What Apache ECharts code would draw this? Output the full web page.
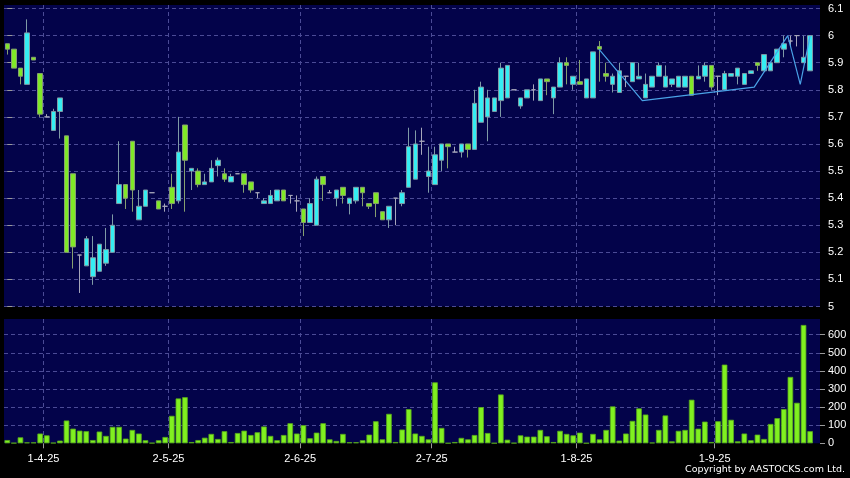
<!DOCTYPE html>
<html><head><meta charset="utf-8">
<script src="https://cdn.jsdelivr.net/npm/echarts@6/dist/echarts.min.js"></script>
<style>html,body{margin:0;padding:0;background:#000;}#c{width:850px;height:478px;}</style>
</head><body><div id="c"></div>
<script>
// trading days (d-m-yy); last category is an empty slot at the right edge
const dates = ['24-3-25','25-3-25','26-3-25','27-3-25','28-3-25','31-3-25',
'1-4-25','2-4-25','3-4-25','7-4-25','8-4-25','9-4-25','10-4-25','11-4-25','14-4-25','15-4-25','16-4-25','17-4-25','22-4-25','23-4-25','24-4-25','25-4-25','28-4-25','29-4-25','30-4-25',
'2-5-25','6-5-25','7-5-25','8-5-25','9-5-25','12-5-25','13-5-25','14-5-25','15-5-25','16-5-25','19-5-25','20-5-25','21-5-25','22-5-25','23-5-25','26-5-25','27-5-25','28-5-25','29-5-25','30-5-25',
'2-6-25','3-6-25','4-6-25','5-6-25','6-6-25','9-6-25','10-6-25','11-6-25','12-6-25','13-6-25','16-6-25','17-6-25','18-6-25','19-6-25','20-6-25','23-6-25','24-6-25','25-6-25','26-6-25','27-6-25',
'2-7-25','3-7-25','4-7-25','7-7-25','8-7-25','9-7-25','10-7-25','11-7-25','14-7-25','15-7-25','16-7-25','17-7-25','18-7-25','21-7-25','22-7-25','23-7-25','24-7-25','25-7-25','28-7-25','29-7-25','30-7-25','31-7-25',
'1-8-25','4-8-25','5-8-25','6-8-25','7-8-25','8-8-25','11-8-25','12-8-25','13-8-25','14-8-25','15-8-25','18-8-25','19-8-25','20-8-25','21-8-25','22-8-25','25-8-25','26-8-25','27-8-25','28-8-25','29-8-25',
'1-9-25','2-9-25','3-9-25','4-9-25','5-9-25','8-9-25','9-9-25','10-9-25','11-9-25','12-9-25','15-9-25','16-9-25','17-9-25','18-9-25','19-9-25','22-9-25'];
const tickLabels = ['1-4-25','2-5-25','2-6-25','2-7-25','1-8-25','1-9-25'];

const opens = [5.97,5.95,5.88,5.82,5.92,5.86,5.70,5.65,5.72,5.63,5.49,5.19,5.15,5.11,5.13,5.16,5.20,5.38,5.45,5.61,
5.32,5.37,5.42,5.39,5.37,5.44,5.39,5.67,5.50,5.50,5.45,5.46,5.52,5.49,5.46,5.49,5.49,5.46,5.42,5.38,
5.38,5.39,5.43,5.41,5.39,5.36,5.31,5.30,5.48,5.42,5.40,5.44,5.38,5.39,5.44,5.38,5.42,5.35,5.32,5.40,
5.38,5.44,5.47,5.61,5.48,5.45,5.54,5.60,5.57,5.57,5.60,5.58,5.68,5.70,5.72,5.76,5.77,5.80,5.74,5.77,
5.80,5.76,5.84,5.77,5.81,5.90,5.82,5.83,5.77,5.77,5.96,5.86,5.82,5.79,5.85,5.83,5.84,5.77,5.81,5.85,
5.81,5.82,5.81,5.81,5.85,5.84,5.85,5.89,5.85,5.80,5.85,5.85,5.82,5.86,5.90,5.87,5.87,5.90,5.95,5.98,
6.00,5.90,5.87];
const closes = [5.95,5.88,5.85,6.01,5.91,5.71,5.70,5.72,5.77,5.20,5.22,5.19,5.25,5.18,5.23,5.21,5.30,5.45,5.40,5.43,
5.37,5.43,5.42,5.36,5.37,5.38,5.57,5.54,5.51,5.45,5.46,5.51,5.54,5.47,5.48,5.49,5.45,5.43,5.42,5.39,
5.41,5.43,5.39,5.41,5.39,5.31,5.38,5.47,5.45,5.42,5.43,5.41,5.40,5.44,5.42,5.37,5.38,5.32,5.37,5.40,
5.42,5.59,5.60,5.61,5.50,5.56,5.60,5.59,5.57,5.60,5.58,5.75,5.81,5.77,5.77,5.88,5.89,5.80,5.77,5.80,
5.80,5.84,5.83,5.81,5.90,5.89,5.85,5.82,5.84,5.94,5.95,5.85,5.85,5.87,5.85,5.90,5.85,5.82,5.85,5.89,
5.85,5.84,5.85,5.85,5.78,5.85,5.89,5.81,5.85,5.86,5.86,5.88,5.86,5.87,5.89,5.93,5.90,5.95,5.97,5.98,
6.00,5.92,6.00];
const lows = [5.93,5.88,5.82,5.82,5.91,5.70,5.70,5.65,5.62,5.20,5.14,5.05,5.15,5.08,5.13,5.15,5.20,5.38,5.36,5.35,
5.32,5.37,5.42,5.36,5.35,5.36,5.38,5.35,5.43,5.44,5.45,5.46,5.48,5.46,5.46,5.49,5.42,5.42,5.40,5.38,
5.38,5.39,5.39,5.38,5.35,5.26,5.31,5.30,5.39,5.42,5.37,5.38,5.34,5.38,5.37,5.36,5.33,5.32,5.29,5.30,
5.37,5.44,5.47,5.56,5.42,5.45,5.50,5.51,5.57,5.55,5.55,5.58,5.68,5.61,5.72,5.70,5.77,5.80,5.73,5.77,
5.76,5.76,5.78,5.71,5.81,5.82,5.80,5.82,5.77,5.77,5.83,5.83,5.79,5.79,5.81,5.83,5.84,5.77,5.81,5.85,
5.81,5.81,5.81,5.81,5.78,5.84,5.83,5.80,5.78,5.80,5.85,5.82,5.82,5.86,5.87,5.87,5.87,5.90,5.92,5.96,
5.96,5.90,5.87];
const highs = [5.97,5.95,5.88,6.06,5.92,5.86,5.71,5.73,5.77,5.63,5.49,5.19,5.26,5.26,5.23,5.29,5.34,5.61,5.45,5.61,
5.43,5.43,5.42,5.39,5.38,5.49,5.70,5.67,5.51,5.51,5.49,5.54,5.55,5.51,5.49,5.49,5.49,5.46,5.42,5.40,
5.43,5.43,5.43,5.41,5.41,5.36,5.40,5.48,5.48,5.43,5.43,5.44,5.40,5.44,5.44,5.38,5.42,5.35,5.37,5.40,
5.43,5.66,5.65,5.66,5.59,5.59,5.60,5.60,5.59,5.60,5.60,5.80,5.83,5.80,5.77,5.90,5.89,5.80,5.77,5.80,
5.82,5.84,5.84,5.81,5.92,5.92,5.85,5.91,5.84,5.94,5.98,5.90,5.86,5.90,5.85,5.90,5.90,5.86,5.85,5.90,
5.89,5.84,5.85,5.85,5.85,5.89,5.90,5.89,5.85,5.87,5.86,5.88,5.86,5.87,5.90,5.93,5.90,5.95,6.00,6.00,
6.00,6.00,6.00];
const volumes = [18,2,33,5,5,54,44,3,15,126,81,70,67,18,65,41,91,91,26,74,
54,17,2,17,35,152,248,255,7,18,31,52,24,67,7,57,70,46,61,93,
41,17,46,111,54,100,28,59,111,22,13,52,6,6,17,48,122,22,163,7,
76,189,54,41,22,337,85,1,7,30,22,46,200,57,1,270,20,2,44,37,
37,74,39,7,69,52,44,59,1,52,22,74,204,15,54,124,193,159,4,74,
154,11,69,74,241,81,120,7,122,435,130,11,54,17,48,24,107,139,189,367,
224,654,67];
// pattern line drawn over the price panel (x in trading-day index units)
const lineIdx = [89.9, 96.5, 113.5, 118.6, 120.5, 122];
const linePrice = [5.95, 5.76, 5.81, 6.00, 5.82, 6.00];

const candles = opens.map((o, i) => [o, closes[i], lows[i], highs[i]]);
const boundaries = dates.concat(['']);
const isTick = (idx, val) => tickLabels.indexOf(val) >= 0;

const FONT = "'Liberation Sans', Arial, sans-serif";
const gridLine = { color: '#4b4b96', type: [4, 3], width: 1 };
const L = 4, W = 816;

const chart = echarts.init(document.getElementById('c'), null, { renderer: 'canvas' });
chart.setOption({
  animation: false,
  backgroundColor: '#000000',
  grid: [
    { left: L, top: 5, width: W, height: 301.5, show: true, backgroundColor: '#03034a', borderWidth: 0 },
    { left: L, top: 319, width: W, height: 124.3, show: true, backgroundColor: '#03034a', borderWidth: 0 }
  ],
  xAxis: [
    { type: 'category', gridIndex: 0, position: 'bottom', data: dates, boundaryGap: true,
      axisLine: { show: false }, axisTick: { show: false }, axisLabel: { show: false }, splitLine: { show: false } },
    { type: 'category', gridIndex: 0, position: 'bottom', data: boundaries, boundaryGap: false,
      axisLine: { show: false }, axisTick: { show: false }, axisLabel: { show: false },
      splitLine: { show: true, interval: isTick, lineStyle: gridLine } },
    { type: 'value', gridIndex: 0, min: -0.5, max: 123.5, show: false },
    { type: 'category', gridIndex: 1, position: 'bottom', data: dates, boundaryGap: true,
      axisLine: { show: false }, axisTick: { show: false }, axisLabel: { show: false }, splitLine: { show: false } },
    { type: 'category', gridIndex: 1, position: 'bottom', offset: 0, data: boundaries, boundaryGap: false,
      axisLine: { show: false },
      axisTick: { show: true, interval: isTick, length: 5, lineStyle: { color: '#999999' } },
      axisLabel: { show: true, interval: isTick, color: '#ffffff', fontSize: 11, fontFamily: FONT, margin: 10 },
      splitLine: { show: true, interval: isTick, lineStyle: gridLine } }
  ],
  yAxis: [
    { type: 'value', gridIndex: 0, position: 'right', min: 5, max: 6.113, interval: 0.1,
      axisLine: { show: false },
      axisTick: { show: true, length: 5, lineStyle: { color: '#999999' } },
      axisLabel: { color: '#ffffff', fontSize: 11, fontFamily: FONT, margin: 8, showMaxLabel: false },
      splitLine: { show: true, showMaxLine: false, lineStyle: gridLine } },
    { type: 'value', gridIndex: 1, position: 'right', min: 0, max: 687, interval: 100,
      axisLine: { show: false },
      axisTick: { show: true, length: 5, lineStyle: { color: '#999999' } },
      axisLabel: { color: '#ffffff', fontSize: 11, fontFamily: FONT, margin: 8, showMaxLabel: false },
      splitLine: { show: true, showMaxLine: false, showMinLine: false, lineStyle: gridLine } }
  ],
  series: [
    { type: 'candlestick', xAxisIndex: 0, yAxisIndex: 0, data: candles, barWidth: 5,
      itemStyle: { color: '#35eef2', color0: '#80e828', borderColor: '#7f9aa6', borderColor0: '#86a070',
                   borderColorDoji: '#a6a6ba', borderWidth: 1 } },
    { type: 'line', xAxisIndex: 2, yAxisIndex: 0, data: lineIdx.map((x, i) => [x, linePrice[i]]),
      symbol: 'none', lineStyle: { color: '#4aa2e6', width: 1.2 }, z: 3 },
    { type: 'bar', xAxisIndex: 3, yAxisIndex: 1, data: volumes, barWidth: 5.6,
      itemStyle: { color: '#80f020', borderColor: '#58a81c', borderWidth: 0.8 } }
  ],
  graphic: [
    { type: 'text', right: 5, top: 465,
      style: { text: 'Copyright by AASTOCKS.com Ltd.', fill: '#ffffff', font: "9.5px 'DejaVu Sans', sans-serif" } }
  ]
});
</script></body></html>
